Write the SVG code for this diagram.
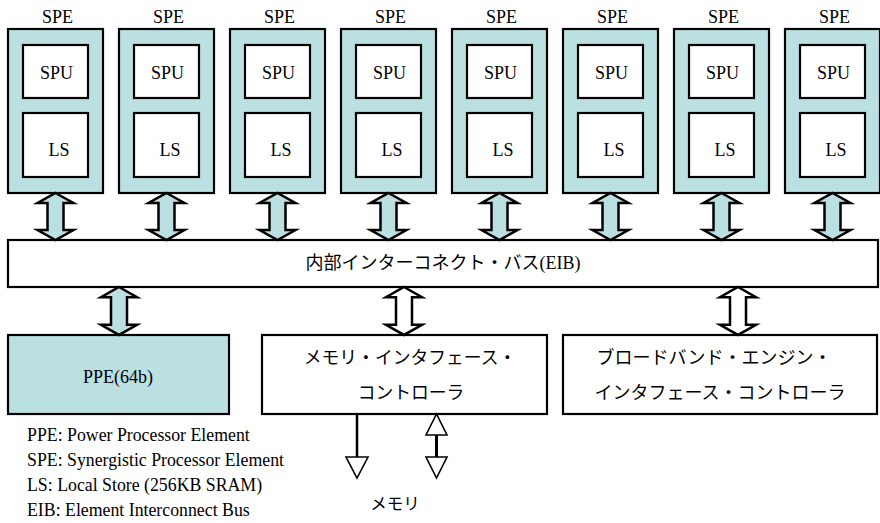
<svg xmlns="http://www.w3.org/2000/svg" width="880" height="523" viewBox="0 0 880 523">
<style>
.blue{fill:#bae0e2;stroke:#000;stroke-width:2.2}
.box{fill:#ffffff;stroke:#000;stroke-width:2.2}
.arrB{fill:#bae0e2;stroke:#000;stroke-width:2.5;stroke-linejoin:miter}
.arrW{fill:#ffffff;stroke:#000;stroke-width:2.5;stroke-linejoin:miter}
.ln{stroke:#000;fill:none}
.tri{fill:#ffffff;stroke:#000;stroke-width:1.6}
</style>
<defs>
<path id="darr" d="M0,0 L18,10 L8,10 L8,37 L18,37 L0,47 L-18,37 L-8,37 L-8,10 L-18,10 Z"/>
<g id="spe" font-family="Liberation Serif, Times New Roman, serif" font-size="18" fill="#000">
<text x="49.5" y="23" text-anchor="middle">SPE</text>
<rect class="blue" x="0" y="29" width="95" height="164"/>
<rect class="box" x="15" y="45" width="65" height="53"/>
<text x="48.5" y="79" text-anchor="middle">SPU</text>
<rect class="box" x="15" y="113" width="65" height="64"/>
<text x="51" y="156" text-anchor="middle">LS</text>
</g>
</defs>
<rect x="0" y="0" width="880" height="523" fill="#ffffff"/>

<g id="spe1"><use href="#spe" transform="translate(8,0)"/></g>
<g id="spe2"><use href="#spe" transform="translate(119,0)"/></g>
<g id="spe3"><use href="#spe" transform="translate(230,0)"/></g>
<g id="spe4"><use href="#spe" transform="translate(341,0)"/></g>
<g id="spe5"><use href="#spe" transform="translate(452,0)"/></g>
<g id="spe6"><use href="#spe" transform="translate(563,0)"/></g>
<g id="spe7"><use href="#spe" transform="translate(674,0)"/></g>
<g id="spe8"><use href="#spe" transform="translate(785,0)"/></g>

<g id="eib">
<rect class="box" x="8" y="240" width="870" height="47"/>
<text x="443" y="269" font-size="18" text-anchor="middle" fill="#000"><tspan font-family="Noto Sans CJK JP, sans-serif">内部インターコネクト・バス</tspan><tspan font-family="Liberation Serif, Times New Roman, serif">(EIB)</tspan></text>
</g>

<g id="ppe">
<rect class="blue" x="8" y="335" width="221" height="79"/>
<text x="118" y="383" font-family="Liberation Serif, Times New Roman, serif" font-size="18" text-anchor="middle" fill="#000">PPE(64b)</text>
</g>

<g id="memctrl" font-family="Noto Sans CJK JP, sans-serif" fill="#000">
<rect class="box" x="262" y="335" width="285" height="79"/>
<text x="410" y="364" font-size="17.8" text-anchor="middle">メモリ・インタフェース・</text>
<text x="411" y="399" font-size="17.8" text-anchor="middle">コントローラ</text>
</g>

<g id="bbe" font-family="Noto Sans CJK JP, sans-serif" fill="#000">
<rect class="box" x="563" y="335" width="314" height="79"/>
<text x="714" y="364" font-size="18" text-anchor="middle">ブロードバンド・エンジン・</text>
<text x="720" y="399" font-size="18" text-anchor="middle">インタフェース・コントローラ</text>
</g>

<g id="memory">
<text x="395" y="510" font-family="Noto Sans CJK JP, sans-serif" font-size="16.5" text-anchor="middle" fill="#000">メモリ</text>
</g>

<g id="legend" font-family="Liberation Serif, Times New Roman, serif" font-size="17.8" fill="#000">
<text x="27" y="441">PPE: Power Processor Element</text>
<text x="27" y="466">SPE: Synergistic Processor Element</text>
<text x="27" y="491">LS: Local Store (256KB SRAM)</text>
<text x="27" y="516">EIB: Element Interconnect Bus</text>
</g>

<g id="connectors">
<use href="#darr" class="arrB" transform="translate(55.5,193)"/>
<use href="#darr" class="arrB" transform="translate(166.5,193)"/>
<use href="#darr" class="arrB" transform="translate(277.5,193)"/>
<use href="#darr" class="arrB" transform="translate(388.5,193)"/>
<use href="#darr" class="arrB" transform="translate(499.5,193)"/>
<use href="#darr" class="arrB" transform="translate(610.5,193)"/>
<use href="#darr" class="arrB" transform="translate(721.5,193)"/>
<use href="#darr" class="arrB" transform="translate(832.5,193)"/>
<use href="#darr" class="arrB" transform="translate(119,287) scale(1,1.02)"/>
<use href="#darr" class="arrW" transform="translate(404,287) scale(1,1.02)"/>
<use href="#darr" class="arrW" transform="translate(738,287) scale(1,1.02)"/>
<line class="ln" x1="357" y1="414" x2="357" y2="457" stroke-width="2.5"/>
<polygon class="tri" points="346,457 368,457 357,478"/>
<polygon class="tri" points="426,435 447,435 436.5,414"/>
<line class="ln" x1="436.5" y1="435" x2="436.5" y2="457" stroke-width="3"/>
<polygon class="tri" points="426,457 447,457 436.5,478"/>
</g>
</svg>
